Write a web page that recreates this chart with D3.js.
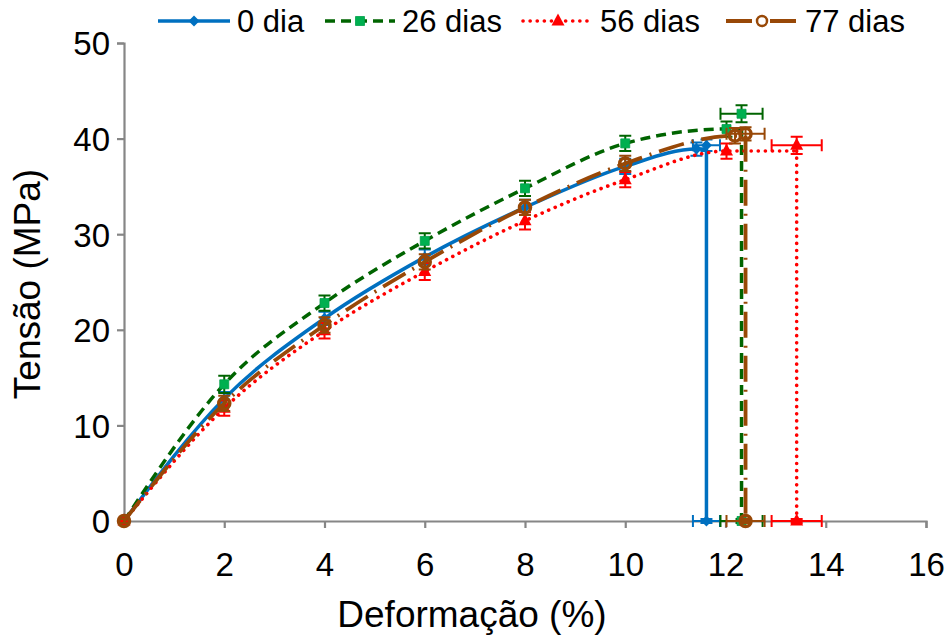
<!DOCTYPE html>
<html>
<head>
<meta charset="utf-8">
<script src="https://cdn.jsdelivr.net/npm/d3@7"></script>
<style>
  body { margin: 0; background: #ffffff; }
  text { font-family: "Liberation Sans", Arial, sans-serif; fill: #000; }
</style>
</head>
<body>
<svg id="chart" width="949" height="639"></svg>
<script>
// Stress–strain curves at four ageing times
const seriesNames = ["0 dia", "26 dias", "56 dias", "77 dias"];

// Mean strain (%) and stress (MPa) along each curve
const strain0  = [0, 2, 4, 6, 8, 10, 11.42];
const stress0  = [0, 12.8, 21.2, 27.6, 32.8, 37.1, 38.9];
const err0     = [0.2, 0.7, 0.7, 0.8, 0.8, 0.8, 0.7];

const strain26 = [0, 2, 4, 6, 8, 10, 12.02];
const stress26 = [0, 14.3, 22.8, 29.3, 34.8, 39.5, 41.0];
const err26    = [0.2, 0.9, 0.8, 0.8, 0.8, 0.8, 0.8];

const strain56 = [0, 2, 4, 6, 8, 10, 12.02];
const stress56 = [0, 11.8, 19.9, 26.1, 31.4, 35.7, 38.7];
const err56    = [0.2, 0.8, 0.8, 0.9, 0.9, 0.8, 0.8];

const strain77 = [0, 2, 4, 6, 8, 10, 12.19];
const stress77 = [0, 12.3, 20.5, 27.1, 32.8, 37.4, 40.3];
const err77    = [0.2, 0.8, 0.8, 0.8, 0.8, 0.8, 0.8];

// Rupture point of each series (mean ± standard deviation)
const ruptureStrain    = [11.62, 12.32, 13.42, 12.40];
const ruptureStrainErr = [0.27, 0.42, 0.50, 0.38];
const ruptureStress    = [39.3, 42.6, 39.3, 40.5];
const ruptureStressErr = [0.6, 0.9, 0.9, 0.7];

const xTicks = [0, 2, 4, 6, 8, 10, 12, 14, 16];
const yTicks = [0, 10, 20, 30, 40, 50];

const svg = d3.select("#chart");
const x = d3.scaleLinear().domain([0, 16]).range([124, 926]);
const y = d3.scaleLinear().domain([0, 50]).range([521, 43]);

const styles = [
  { line: "#0070C0", marker: "#0070C0", bar: "#0070C0", dash: null, cap: "butt", width: 3.5, shape: "diamond" },
  { line: "#006400", marker: "#00B050", bar: "#006400", dash: "10,6", cap: "butt", width: 3.5, shape: "square" },
  { line: "#FF0000", marker: "#FF0000", bar: "#FF0000", dash: "0.1,7", cap: "round", width: 3.6, shape: "triangle" },
  { line: "#984807", marker: "#984807", bar: "#984807", dash: "26,8,2,8", cap: "butt", width: 3.8, shape: "circle" }
];

const curves = [
  { xs: strain0,  ys: stress0,  es: err0 },
  { xs: strain26, ys: stress26, es: err26 },
  { xs: strain56, ys: stress56, es: err56 },
  { xs: strain77, ys: stress77, es: err77 }
];

// Axes
const axisColor = "#868686";
const gx = svg.append("g").attr("transform", `translate(0,${y(0)})`)
  .call(d3.axisBottom(x).tickValues(xTicks).tickFormat(d3.format("d")).tickSize(7).tickPadding(25));
const gy = svg.append("g").attr("transform", `translate(${x(0)},0)`)
  .call(d3.axisLeft(y).tickValues(yTicks).tickFormat(d3.format("d")).tickSize(7).tickPadding(7));
[gx, gy].forEach(g => {
  g.select(".domain").attr("stroke", axisColor).attr("stroke-width", 2.2);
  g.selectAll(".tick line").attr("stroke", axisColor).attr("stroke-width", 2.2);
  g.selectAll(".tick text").attr("font-size", 33).attr("fill", "#000")
    .attr("font-family", "Liberation Sans, Arial, sans-serif");
});
gx.selectAll(".tick text").attr("dy", "0.71em");
gy.selectAll(".tick text").attr("dy", "0.36em");

svg.append("text").attr("x", 472).attr("y", 627).attr("text-anchor", "middle")
  .attr("font-size", 37).text("Deformação (%)");
svg.append("text").attr("transform", `translate(40,284) rotate(-90)`)
  .attr("text-anchor", "middle").attr("font-size", 37).text("Tensão (MPa)");

function markerPath(shape) {
  if (shape === "diamond") return "M0,-5.5L5.5,0L0,5.5L-5.5,0Z";
  if (shape === "square") return "M-4.5,-4.5H4.5V4.5H-4.5Z";
  if (shape === "triangle") return "M0,-7.5L6.5,4.5L-6.5,4.5Z";
  return null;
}

function drawMarker(g, st, cx, cy) {
  if (st.shape === "circle") {
    g.append("circle").attr("cx", cx).attr("cy", cy).attr("r", 5.5)
      .attr("fill", "none").attr("stroke", st.marker).attr("stroke-width", 3.5);
  } else {
    g.append("path").attr("transform", `translate(${cx},${cy})`)
      .attr("d", markerPath(st.shape)).attr("fill", st.marker)
      .attr("stroke", st.shape === "square" ? "#00A04A" : "none").attr("stroke-width", 0.8);
  }
}

const curveLine = d3.line().x(d => x(d[0])).y(d => y(d[1])).curve(d3.curveMonotoneX);
const straight = d3.line().x(d => x(d[0])).y(d => y(d[1]));

curves.forEach((c, i) => {
  const st = styles[i];
  const g = svg.append("g");
  const pts = c.xs.map((v, k) => [v, c.ys[k]]);
  const last = pts[pts.length - 1];
  const endTop = [ruptureStrain[i], last[1]];

  // curve up to failure, then the drop to zero stress
  const lineAttrs = sel => sel.attr("fill", "none").attr("stroke", st.line)
    .attr("stroke-width", st.width).attr("stroke-linecap", st.cap)
    .attr("stroke-dasharray", st.dash);
  g.append("path").attr("d", curveLine(pts.concat([endTop]))).call(lineAttrs);
  g.append("path").attr("d", straight([endTop, [ruptureStrain[i], 0]])).call(lineAttrs);

  const capW = 6;
  const bars = g.append("g").attr("stroke", st.bar).attr("stroke-width", 2).attr("fill", "none");
  const vBar = (vx, vy, e) => {
    const px = x(vx), y1 = y(vy - e), y2 = y(vy + e);
    bars.append("path").attr("d", `M${px},${y1}V${y2}M${px - capW},${y1}H${px + capW}M${px - capW},${y2}H${px + capW}`);
  };
  const hBar = (vx, vy, e) => {
    const py = y(vy), x1 = x(vx - e), x2 = x(vx + e);
    bars.append("path").attr("d", `M${x1},${py}H${x2}M${x1},${py - capW}V${py + capW}M${x2},${py - capW}V${py + capW}`);
  };

  pts.forEach((p, k) => vBar(p[0], p[1], c.es[k]));
  vBar(ruptureStrain[i], ruptureStress[i], ruptureStressErr[i]);
  hBar(ruptureStrain[i], ruptureStress[i], ruptureStrainErr[i]);
  vBar(ruptureStrain[i], 0, 0.2);
  hBar(ruptureStrain[i], 0, ruptureStrainErr[i]);

  pts.forEach(p => drawMarker(g, st, x(p[0]), y(p[1])));
  drawMarker(g, st, x(ruptureStrain[i]), y(ruptureStress[i]));
  drawMarker(g, st, x(ruptureStrain[i]), y(0));
});

// Legend
const legendX = [158, 325, 523, 726];
const legendLen = [72, 70, 70, 72];
const legendY = 21;
seriesNames.forEach((name, i) => {
  const st = styles[i];
  const g = svg.append("g");
  g.append("line").attr("x1", legendX[i]).attr("x2", legendX[i] + legendLen[i])
    .attr("y1", legendY).attr("y2", legendY)
    .attr("stroke", st.line).attr("stroke-width", st.width)
    .attr("stroke-linecap", st.cap).attr("stroke-dasharray", st.dash);
  if (st.shape === "circle") {
    g.append("circle").attr("cx", legendX[i] + legendLen[i] / 2).attr("cy", legendY).attr("r", 5)
      .attr("fill", "#fff").attr("stroke", st.marker).attr("stroke-width", 2.5);
  } else {
    drawMarker(g, st, legendX[i] + legendLen[i] / 2, legendY);
  }
  g.append("text").attr("x", legendX[i] + legendLen[i] + 7).attr("y", legendY + 11)
    .attr("font-size", 31).text(name);
});
</script>
</body>
</html>
